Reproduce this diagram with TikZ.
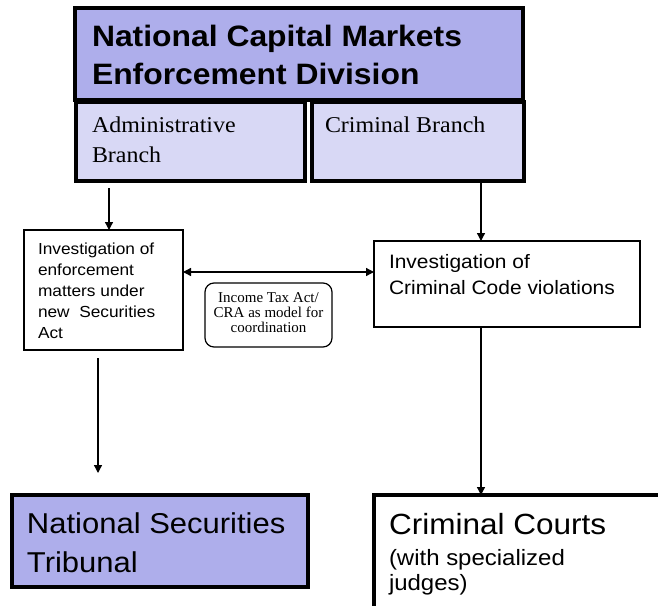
\documentclass[tikz,border=0pt]{standalone}
\usepackage{fontspec}
\setmainfont{Liberation Serif}[FakeStretch=1.06]
\setsansfont{Liberation Sans}[FakeStretch=1.08]
\newfontfamily\plainserif{Liberation Serif}
\usetikzlibrary{arrows.meta}
\definecolor{lavdark}{RGB}{174,174,235}
\definecolor{lavlight}{RGB}{216,216,245}
\begin{document}
\begin{tikzpicture}[x=1pt,y=-1pt,
  boxbase/.style={anchor=north west,inner sep=0pt,outer sep=0pt},
  heavybox/.style={boxbase,draw=black,line width=4pt},
  thinbox/.style={boxbase,draw=black,line width=1.2pt},
  txt/.style={anchor=north west,inner sep=0pt,outer sep=0pt,align=left},
  conn/.style={line width=1.3pt,-{Triangle[length=8pt,width=8pt]}},
  dconn/.style={line width=1.3pt,{Triangle[length=8pt,width=8pt]}-{Triangle[length=8pt,width=8pt]}}]
\useasboundingbox (0,0) rectangle (658,605);
% boxes
\node[heavybox,fill=lavdark,minimum width=448pt,minimum height=92pt] (top) at (75,8) {};
\node[heavybox,fill=lavlight,minimum width=229pt,minimum height=79pt] (admin) at (76,102) {};
\node[heavybox,fill=lavlight,minimum width=212pt,minimum height=79pt] (crbr) at (312,102) {};
\node[thinbox,minimum width=159pt,minimum height=120pt] (adinv) at (24,230) {};
\node[thinbox,minimum width=266pt,minimum height=86pt] (crinv) at (374,241) {};
\node[thinbox,rounded corners=9pt,minimum width=127pt,minimum height=64pt] (model) at (205,283) {};
\node[boxbase,draw=black,line width=3.5pt,fill=lavdark,minimum width=296pt,minimum height=92pt] (trib) at (12,495) {};
\begin{scope}
\clip (0,0) rectangle (658,605);
\node[boxbase,draw=black,line width=3.5pt,minimum width=320pt,minimum height=140pt] (court) at (374,495) {};
\end{scope}
% texts
\node[txt,font=\sffamily\bfseries\fontsize{29.5}{38}\selectfont] (ttltxt) at (92,25) {National Capital Markets\\Enforcement Division};
\node[txt,font=\rmfamily\fontsize{22.6}{30}\selectfont] (admintxt) at (92,117) {Administrative\\Branch};
\node[txt,font=\rmfamily\fontsize{22.6}{30}\selectfont] (crbrtxt) at (325,117) {Criminal Branch};
\node[txt,font=\sffamily\fontsize{16}{21}\selectfont] (adinvtxt) at (38,243) {Investigation of\\enforcement\\matters under\\new\ \ Securities\\Act};
\node[txt,font=\sffamily\fontsize{19.4}{26}\selectfont] (crinvtxt) at (389,254) {Investigation of\\Criminal Code violations};
\node[anchor=center,inner sep=0pt,align=center,font=\plainserif\fontsize{15}{15}\selectfont] (modeltxt) at ([yshift=2pt]model.center) {Income Tax Act/\\CRA as model for\\coordination};
\node[txt,font=\sffamily\fontsize{28.7}{39}\selectfont] (tribtxt) at (27,513) {National Securities\\Tribunal};
\node[txt,font=\sffamily\fontsize{22.2}{23}\selectfont] (courttxt) at (389,513) {{\fontsize{29.2}{32}\selectfont Criminal Courts}\\[8pt](with specialized\\[2.5pt]judges)};
% connector coordinates
\coordinate (xa) at (109,188);
\coordinate (xb) at (481,0);
\coordinate (xc) at (98,358);
\coordinate (xd) at (98,473);
\coordinate (ym) at (0,272);
% connectors
\draw[conn] (xa) -- (xa |- adinv.north);
\draw[conn] (crbr.south -| xb) -- (crinv.north -| xb);
\draw[dconn] (adinv.east |- ym) -- (crinv.west |- ym);
\draw[conn] (xc) -- (xd);
\draw[conn] (crinv.south -| xb) -- (court.north -| xb);
\end{tikzpicture}
\end{document}
